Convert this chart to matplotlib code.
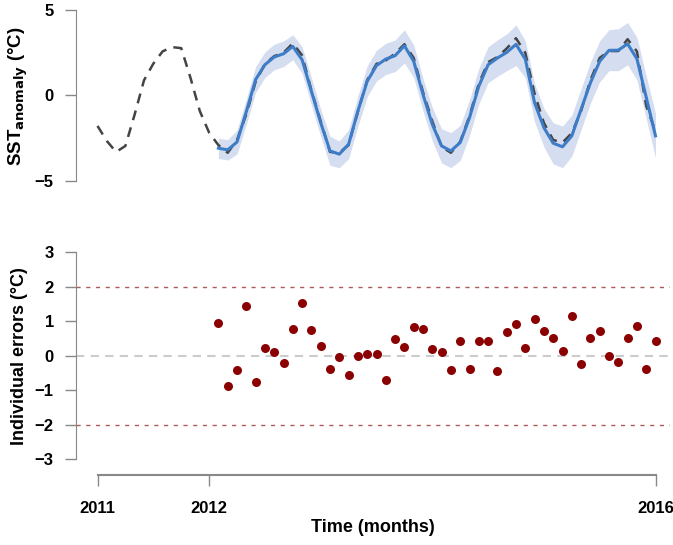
import numpy as np
import matplotlib
matplotlib.use('Agg')
import matplotlib.pyplot as plt

plt.rcParams['font.family'] = ['Liberation Sans Narrow', 'Liberation Sans', 'DejaVu Sans']
plt.rcParams['font.weight'] = 'bold'
plt.rcParams['mathtext.fontset'] = 'custom'
plt.rcParams['mathtext.bf'] = 'Liberation Sans Narrow:bold'
plt.rcParams['mathtext.rm'] = 'Liberation Sans Narrow'

# observed SST anomaly, monthly from Jan 2011 to Jan 2016
obs_sst = [-1.78, -2.66, -3.30, -2.95, -1.10, 0.89, 1.86, 2.58, 2.83, 2.77, 1.03, -0.91,
           -2.17, -2.90, -3.35, -2.60, -1.10, 0.80, 1.85, 2.30, 2.50, 3.05, 2.35, 0.30,
           -1.50, -3.30, -3.35, -2.90, -0.95, 0.90, 1.85, 2.05, 2.45, 3.00, 2.20, 0.20,
           -1.50, -3.00, -3.35, -2.70, -1.20, 0.70, 1.95, 2.25, 2.75, 3.35, 2.50, 0.10,
           -1.60, -2.60, -2.75, -2.20, -0.90, 0.90, 2.20, 2.60, 2.60, 3.29, 2.58, -0.60,
           -2.10]

# model prediction, Feb 2012 to Jan 2016
model_sst = [-3.08, -3.18, -2.72, -0.95, 0.93, 1.80, 2.25, 2.44, 2.87, 2.09, 0.25, -1.59,
             -3.24, -3.43, -2.85, -0.91, 0.83, 1.75, 2.13, 2.33, 2.91, 2.00, 0.06, -1.69,
             -2.95, -3.24, -2.75, -1.30, 0.54, 1.80, 2.19, 2.52, 2.99, 2.13, -0.43, -1.88,
             -2.79, -3.00, -2.36, -0.81, 0.74, 2.00, 2.64, 2.65, 3.02, 2.15, -0.10, -2.36]
band_lower = [-3.68, -3.78, -3.42, -1.70, 0.18, 1.05, 1.50, 1.69, 2.09, 1.30, -0.55, -2.40,
              -4.09, -4.22, -3.70, -1.80, -0.07, 0.85, 1.23, 1.40, 1.90, 1.05, -0.90, -2.65,
              -3.95, -4.22, -3.80, -2.35, -0.50, 0.75, 1.12, 1.45, 1.75, 1.05, -1.55, -3.00,
              -4.00, -4.22, -3.55, -2.00, -0.45, 0.80, 1.45, 1.45, 1.80, 0.90, -1.35, -3.63]
band_upper = [-2.50, -2.58, -2.02, -0.20, 1.68, 2.55, 3.00, 3.19, 3.55, 2.85, 1.05, -0.80,
              -2.39, -2.66, -2.00, -0.02, 1.73, 2.65, 3.05, 3.25, 3.84, 2.95, 1.00, -0.70,
              -1.95, -2.17, -1.75, -0.25, 1.58, 2.85, 3.25, 3.60, 4.13, 3.20, 0.70, -0.75,
              -1.60, -1.78, -1.15, 0.40, 1.95, 3.20, 3.85, 3.90, 4.27, 3.40, 1.15, -1.05]

# individual errors, Feb 2012 to Jan 2016
errors = [0.95, -0.87, -0.42, 1.43, -0.77, 0.23, 0.10, -0.21, 0.78, 1.52, 0.75, 0.27,
          -0.39, -0.03, -0.57, -0.01, 0.05, 0.05, -0.71, 0.48, 0.24, 0.83, 0.78, 0.20,
          0.12, -0.42, 0.42, -0.40, 0.44, 0.42, -0.43, 0.68, 0.91, 0.22, 1.07, 0.72,
          0.50, 0.13, 1.14, -0.25, 0.50, 0.73, 0.00, -0.18, 0.52, 0.87, -0.39, 0.43]

year_ticks = [2011, 2012, 2016]
first_model_month = 13

t_obs = 2011 + np.arange(len(obs_sst)) / 12
t_mod = t_obs[first_model_month:]

W, H = 673, 545
fig = plt.figure(figsize=(W / 100, H / 100), dpi=100)

px_per_year = (655.5 - 97.5) / 5
x0 = 2011 - (97.5 - 76) / px_per_year
x1 = 2011 + (670 - 97.5) / px_per_year
axw = (670 - 76) / W

spine_col = '#888888'
lab_size = 12

# top panel
ax1 = fig.add_axes([76 / W, 1 - 181 / H, axw, 171 / H])
ax1.fill_between(t_mod, band_lower, band_upper, color='#d5ddf0', lw=0)
ax1.plot(t_obs, obs_sst, color='#444444', lw=1.8, dashes=(4, 3))
ax1.plot(t_mod, model_sst, color='#3d7cc6', lw=2.2)
ax1.set_xlim(x0, x1)
ax1.set_ylim(-5, 5)
ax1.set_yticks([-5, 0, 5])
for s in ['top', 'right', 'bottom']:
    ax1.spines[s].set_visible(False)
ax1.spines['left'].set_color(spine_col)
ax1.set_xticks([])
ax1.tick_params(axis='y', length=8, width=1, color=spine_col, pad=8, labelsize=lab_size)
fig.text(18 / W, 1 - 96 / H, r'SST$_{\mathrm{anomaly}}$ (°C)', rotation=90,
         ha='center', va='center', fontsize=13.5, fontweight='bold')

# bottom panel
ax2 = fig.add_axes([76 / W, 1 - 459.2 / H, axw, 207 / H])
ax2.axhline(0, color='#cccccc', lw=1.5, dashes=(4, 3))
ax2.axhline(2, color='#b05a5a', lw=1.0, dashes=(3, 4))
ax2.axhline(-2, color='#b05a5a', lw=1.0, dashes=(3, 4))
ax2.scatter(t_mod, errors, s=42, color='#8b0000', zorder=3, lw=0)
ax2.set_xlim(x0, x1)
ax2.set_ylim(-3, 3)
ax2.set_yticks(range(-3, 4))
for s in ['top', 'right']:
    ax2.spines[s].set_visible(False)
ax2.spines['left'].set_color(spine_col)
ax2.spines['bottom'].set_color(spine_col)
ax2.spines['bottom'].set_position(('outward', 11.4))
ax2.spines['bottom'].set_bounds(2011, 2016)
ax2.spines['bottom'].set_linewidth(1.5)
ax2.set_xticks(year_ticks)
ax2.set_xticklabels([str(y) for y in year_ticks])
ax2.tick_params(axis='both', length=8, width=1, color=spine_col, labelsize=lab_size)
ax2.tick_params(axis='y', pad=8)
ax2.tick_params(axis='x', pad=11)
ax2.xaxis.get_major_ticks()[1].tick1line.set_color('#bbbbbb')
ax2.set_xlabel('Time (months)', fontsize=13, fontweight='bold', labelpad=2)
fig.text(20 / W, 1 - 356 / H, 'Individual errors (°C)', rotation=90,
         ha='center', va='center', fontsize=13, fontweight='bold')

fig.savefig('out.png', dpi=100)
